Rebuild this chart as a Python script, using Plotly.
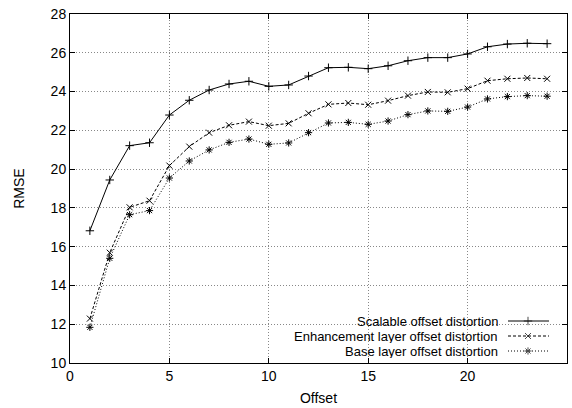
import plotly.graph_objects as go

offsets = list(range(1, 25))
scalable = [16.82, 19.44, 21.21, 21.36, 22.79, 23.55, 24.08, 24.39, 24.53, 24.27, 24.34, 24.80,
            25.23, 25.25, 25.18, 25.33, 25.59, 25.75, 25.75, 25.94, 26.31, 26.45, 26.49, 26.47]
enhancement = [12.29, 15.69, 18.03, 18.37, 20.18, 21.16, 21.88, 22.26, 22.45, 22.24, 22.36, 22.88,
               23.34, 23.41, 23.32, 23.53, 23.79, 23.98, 23.96, 24.15, 24.56, 24.66, 24.70, 24.66]
base = [11.84, 15.40, 17.65, 17.86, 19.54, 20.42, 20.99, 21.38, 21.55, 21.28, 21.35, 21.88,
        22.38, 22.41, 22.31, 22.48, 22.81, 23.00, 22.98, 23.20, 23.62, 23.74, 23.79, 23.76]
names = ["Scalable offset distortion", "Enhancement layer offset distortion", "Base layer offset distortion"]
series = [scalable, enhancement, base]
dashes = ["solid", "3px,2px", "1px,2px"]
symbols = ["cross-thin", "x-thin", "asterisk"]

FONT = "Liberation Sans, Arial, sans-serif"
FS = 14
fig = go.Figure()
for name, vals, dash, sym in zip(names, series, dashes, symbols):
    fig.add_trace(go.Scatter(
        x=offsets, y=vals, mode="lines+markers", name=name, showlegend=False,
        line=dict(color="black", width=1, dash=dash),
        marker=dict(symbol=sym, size=6, color="black", line=dict(color="black", width=1)),
    ))

# gnuplot-style key (text right-aligned, sample to the right)
W, H, L, B = 497, 349, 70, 363
row_y = [321, 336, 351]
for name, dash, sym, py in zip(names, dashes, symbols, row_y):
    yp = (B - py) / H
    fig.add_annotation(xref="paper", yref="paper", x=(499 - L) / W, y=yp, text=name,
                       showarrow=False, xanchor="right", yanchor="middle",
                       height=14, borderpad=0, valign="middle",
                       font=dict(family=FONT, size=13, color="black"))
    fig.add_trace(go.Scatter(
        x=[(508 - L) / W, (528 - L) / W, (549 - L) / W], y=[yp, yp, yp],
        xaxis="x2", yaxis="y2", showlegend=False, hoverinfo="skip",
        mode="lines+markers", marker=dict(symbol=sym, size=[0, 6, 0], color="black",
                                          line=dict(color="black", width=1)),
        line=dict(color="black", width=1, dash=dash)))

fig.add_shape(type="rect", xref="paper", yref="paper", layer="between",
              x0=(192 - L) / W, x1=(557 - L) / W, y0=(B - 357) / H, y1=(B - 314) / H,
              fillcolor="white", line=dict(width=0))

axis_common = dict(showline=True, linecolor="black", linewidth=1, mirror="ticks",
                   ticks="inside", ticklen=5, tickcolor="black",
                   showgrid=True, gridcolor="#888888", griddash="1px,2px", gridwidth=1,
                   zeroline=False, tickfont=dict(family=FONT, size=FS, color="black"))

fig.update_layout(
    width=572, height=408, margin=dict(l=70, r=5, t=14, b=45),
    paper_bgcolor="white", plot_bgcolor="white",
    font=dict(family=FONT, size=FS, color="black"),
    xaxis=dict(range=[0, 25], dtick=5, tick0=0,
               title=dict(text="Offset", font=dict(family=FONT, size=FS), standoff=10),
               **axis_common),
    yaxis=dict(range=[10, 28], dtick=2, tick0=10,
               title=dict(text="RMSE", font=dict(family=FONT, size=FS), standoff=22),
               **axis_common),
    xaxis2=dict(range=[0, 1], overlaying="x", visible=False, fixedrange=True),
    yaxis2=dict(range=[0, 1], overlaying="y", visible=False, fixedrange=True),
)

fig.write_html("out.html")
